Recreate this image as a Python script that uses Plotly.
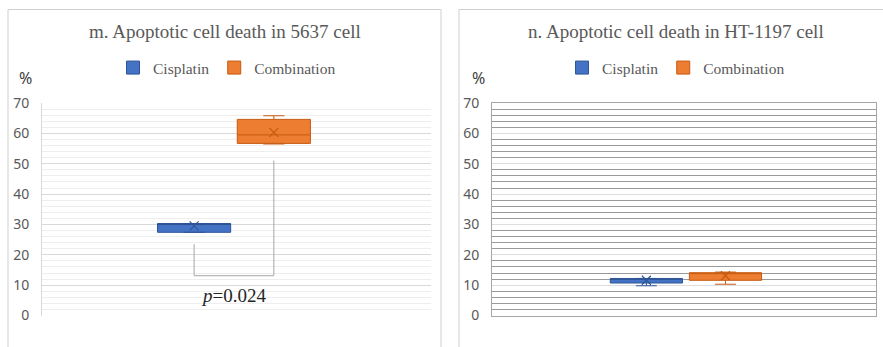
import plotly.graph_objects as go

# ---- data -------------------------------------------------------------
series = ["Cisplatin", "Combination"]
colors = {"Cisplatin": "#4472C4", "Combination": "#ED7D31"}
edges = {"Cisplatin": "#2F5597", "Combination": "#C55A11"}

# 5637 cells (% apoptotic)
m_q1 = [27.4, 56.7]
m_median = [30.3, 59.5]
m_q3 = [30.3, 64.6]
m_low = [27.4, 56.5]
m_high = [30.3, 65.8]
m_mean = [29.5, 60.3]

# HT-1197 cells (% apoptotic)
n_q1 = [10.7, 11.6]
n_median = [12.2, 14.1]
n_q3 = [12.2, 14.1]
n_low = [9.8, 10.3]
n_high = [12.2, 14.3]
n_mean = [11.6, 13.1]

p_label = "<i>p</i>=0.024"
y_ticks = [0, 10, 20, 30, 40, 50, 60, 70]

# ---- layout helpers ---------------------------------------------------
W, H = 883, 347
BOX_POS_M = [0.391, 0.596]
BOX_POS_N = [0.402, 0.608]
BOX_W = 0.188


def px(x):
    return x / W


def py(y):
    return 1 - y / H


fig = go.Figure()


def add_panel(xa, ya, pos, q1, med, q3, lo, hi, mean):
    for i, name in enumerate(series):
        fig.add_trace(go.Box(
            x=[pos[i]], q1=[q1[i]], median=[med[i]], q3=[q3[i]],
            lowerfence=[lo[i]], upperfence=[hi[i]],
            width=BOX_W, whiskerwidth=0.29,
            fillcolor=colors[name], line=dict(color=edges[name], width=1),
            xaxis=xa, yaxis=ya, showlegend=False, hoverinfo="skip",
        ))
        fig.add_trace(go.Scatter(
            x=[pos[i]], y=[mean[i]], mode="markers",
            marker=dict(symbol="x-thin-open", size=9, color=edges[name],
                        line=dict(color=edges[name], width=1.2)),
            xaxis=xa, yaxis=ya, showlegend=False, hoverinfo="skip",
        ))


add_panel("x", "y", BOX_POS_M, m_q1, m_median, m_q3, m_low, m_high, m_mean)
add_panel("x2", "y2", BOX_POS_N, n_q1, n_median, n_q3, n_low, n_high, n_mean)

# legend-only entries, one legend per panel
for lg in ["legend", "legend2"]:
    for name in series:
        fig.add_trace(go.Scatter(
            x=[None], y=[None], mode="markers", name=name, legend=lg,
            marker=dict(symbol="square", size=13, color=colors[name],
                        line=dict(color=edges[name], width=1)),
            xaxis="x" if lg == "legend" else "x2",
            yaxis="y" if lg == "legend" else "y2",
        ))

axis_font = dict(family="Noto Sans", size=14, color="#595959")
legend_font = dict(family="Liberation Serif", size=15.5, color="#595959")

yaxis_common = dict(
    range=[0, 70], tickvals=y_ticks, tickfont=axis_font, ticks="",
    ticklabelstandoff=9, zeroline=False, fixedrange=True,
)

fig.update_layout(
    width=W, height=H,
    margin=dict(l=0, r=0, t=0, b=0, autoexpand=False),
    paper_bgcolor="white", plot_bgcolor="white",
    xaxis=dict(domain=[px(42), px(431)], range=[0, 1], showgrid=False,
               showticklabels=False, zeroline=False),
    xaxis2=dict(domain=[px(492), px(876)], range=[0, 1], showgrid=False,
                showticklabels=False, zeroline=False, showline=True,
                linecolor="#a6a6a6", mirror=True),
    yaxis=dict(domain=[py(315.5), py(103)], gridcolor="#d9d9d9",
               showline=True, linecolor="#d9d9d9",
               minor=dict(dtick=2, showgrid=True, gridcolor="#eeeeee"),
               **yaxis_common),
    yaxis2=dict(domain=[py(315.5), py(103)], anchor="x2",
                gridcolor="#dedede", showline=True, linecolor="#a6a6a6",
                mirror=True,
                minor=dict(dtick=2, showgrid=True, gridcolor="#9a9a9a"),
                **yaxis_common),
    legend=dict(orientation="h", x=px(227), xanchor="center",
                y=py(68), yanchor="middle", font=legend_font,
                bgcolor="rgba(0,0,0,0)"),
    legend2=dict(orientation="h", x=px(676), xanchor="center",
                 y=py(68), yanchor="middle", font=legend_font,
                 bgcolor="rgba(0,0,0,0)"),
    showlegend=True,
)

title_font = dict(family="Liberation Serif", size=19, color="#595959")
for text, xc in [("m. Apoptotic cell death in 5637 cell", 224.5),
                 ("n. Apoptotic cell death in HT-1197 cell", 676)]:
    fig.add_annotation(text=text, x=px(xc), y=py(32), xref="paper",
                       yref="paper", xanchor="center", yanchor="middle",
                       showarrow=False, font=title_font)
for xc in [25, 478]:
    fig.add_annotation(text="%", x=px(xc), y=py(78), xref="paper",
                       yref="paper", xanchor="center", yanchor="middle",
                       showarrow=False,
                       font=dict(family="Noto Sans", size=16, color="#404040"))

# significance bracket between the two 5637 boxes
bracket_low = 13.1
fig.add_shape(type="path",
              path=(f"M {BOX_POS_M[0]},23.5 L {BOX_POS_M[0]},{bracket_low} "
                    f"L {BOX_POS_M[1]},{bracket_low} L {BOX_POS_M[1]},51"),
              xref="x", yref="y", line=dict(color="#a6a6a6", width=1))
fig.add_annotation(text=p_label, x=(BOX_POS_M[0] + BOX_POS_M[1]) / 2, y=6.5,
                   xref="x", yref="y", xanchor="center", yanchor="middle",
                   showarrow=False,
                   font=dict(family="Liberation Serif", size=19,
                             color="#262626"))

# outer chart frames
for x0, x1 in [(8, 441), (459, 895)]:
    fig.add_shape(type="rect", xref="paper", yref="paper",
                  x0=px(x0), x1=px(x1), y0=py(352), y1=py(9.5),
                  line=dict(color="#cfcfcf", width=1))

fig.write_html("out.html")
